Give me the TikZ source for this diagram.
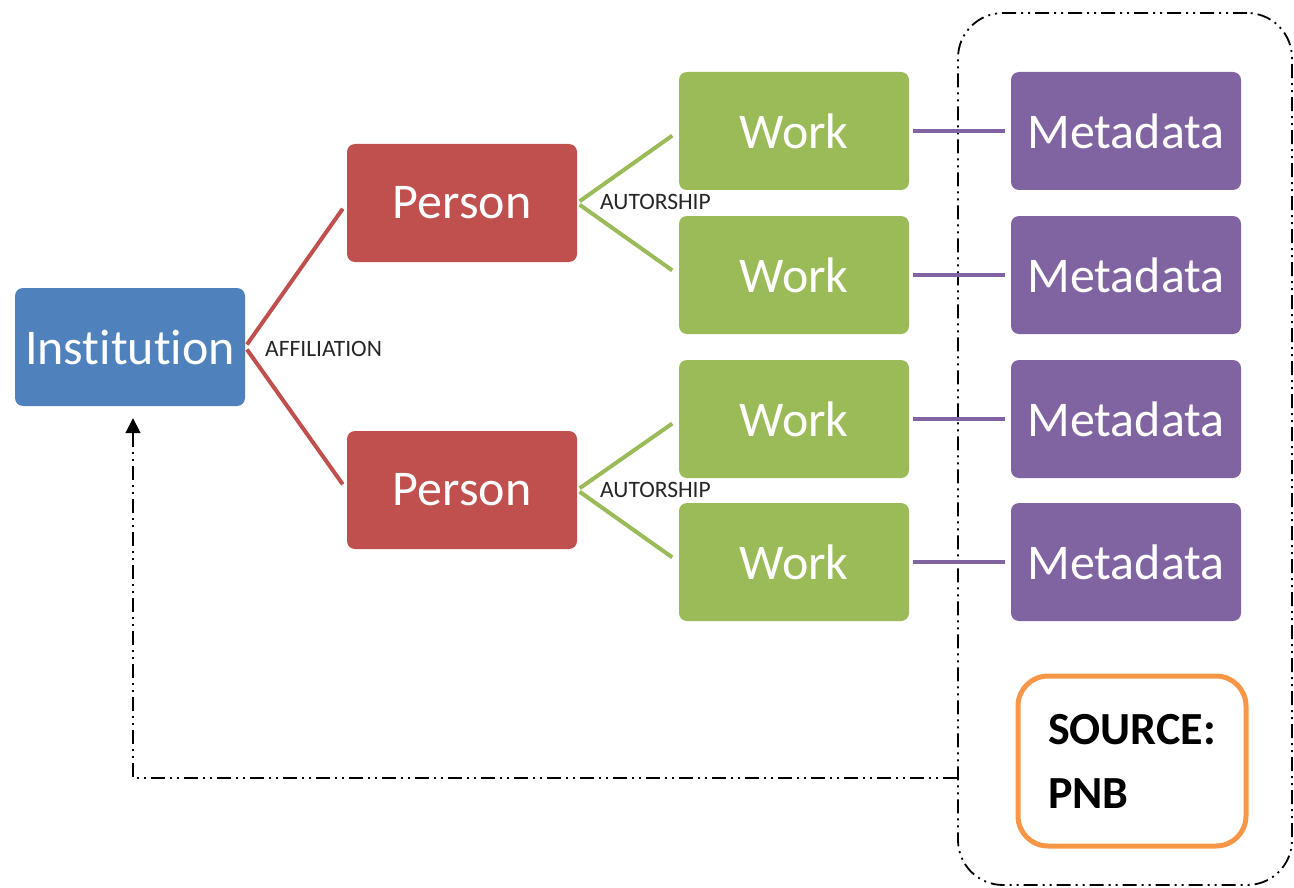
\documentclass[tikz,border=0pt]{standalone}
\usepackage{fontspec}
\setmainfont{Carlito}[Ligatures=NoCommon]
\usetikzlibrary{arrows.meta}
\definecolor{cblue}{HTML}{4F81BD}
\definecolor{cred}{HTML}{C0504D}
\definecolor{cgreen}{HTML}{9BBB59}
\definecolor{cpurple}{HTML}{8064A2}
\definecolor{corange}{HTML}{F79646}
\tikzset{
  box/.style={rectangle, rounded corners=8pt, minimum width=230pt, minimum height=118pt, inner sep=0pt, text=white, font=\fontsize{50}{52}\selectfont},
  inst/.style={box, fill=cblue},
  pers/.style={box, fill=cred},
  work/.style={box, fill=cgreen},
  meta/.style={box, fill=cpurple},
  lbl/.style={anchor=west, inner sep=0pt, font=\fontsize{23.5}{24}\selectfont, text=black!85},
  redln/.style={draw=cred, line width=4pt, shorten >=7pt, shorten <=3pt},
  grnln/.style={draw=cgreen, line width=4pt, shorten >=8pt, shorten <=3pt},
  purln/.style={draw=cpurple, line width=4pt, shorten >=6pt, shorten <=4pt},
  ddd/.style={line width=1.8pt, dash pattern=on 14pt off 5pt on 2pt off 5pt on 2pt off 5pt}
}
\begin{document}
\begin{tikzpicture}[x=1pt,y=-1pt]
\useasboundingbox (0,0) rectangle (1294,888);
% container
\node[ddd, draw=black, rounded corners=45pt, minimum width=334pt, minimum height=872pt, inner sep=0pt] (cont) at (1125,449) {};
% nodes
\node[inst] (inst) at (130,347) {Institution};
\node[pers] (p1) at (462,203) {Person};
\node[pers] (p2) at (462,490) {Person};
\node[work] (w1) at (794,131) {Work};
\node[work] (w2) at (794,275) {Work};
\node[work] (w3) at (794,419) {Work};
\node[work] (w4) at (794,562) {Work};
\node[meta] (m1) at (1126,131) {Metadata};
\node[meta] (m2) at (1126,275) {Metadata};
\node[meta] (m3) at (1126,419) {Metadata};
\node[meta] (m4) at (1126,562) {Metadata};
\node[draw=corange, line width=5pt, rounded corners=30pt, minimum width=228pt, minimum height=170pt, align=left, inner sep=0pt, font=\fontsize{46}{64}\selectfont\bfseries] (src) at (1132,761) {SOURCE:\\PNB};
% connectors
\draw[redln] (inst.east) -- (p1.west);
\draw[redln] (inst.east) -- (p2.west);
\draw[grnln] (p1.east) -- (w1.west);
\draw[grnln] (p1.east) -- (w2.west);
\draw[grnln] (p2.east) -- (w3.west);
\draw[grnln] (p2.east) -- (w4.west);
\draw[purln] (w1.east) -- (m1.west);
\draw[purln] (w2.east) -- (m2.west);
\draw[purln] (w3.east) -- (m3.west);
\draw[purln] (w4.east) -- (m4.west);
% labels
\node[lbl] (laff) at (265,349) {AFFILIATION};
\node[lbl] (la1) at (600,202) {AUTORSHIP};
\node[lbl] (la2) at (600,490) {AUTORSHIP};
% feedback arrow
\coordinate (c1) at (cont.west |- 0,778);
\draw[ddd, -{Triangle[width=15pt,length=15pt]}, shorten >=12pt] (c1) -| ([xshift=3pt]inst.south);
\end{tikzpicture}
\end{document}
